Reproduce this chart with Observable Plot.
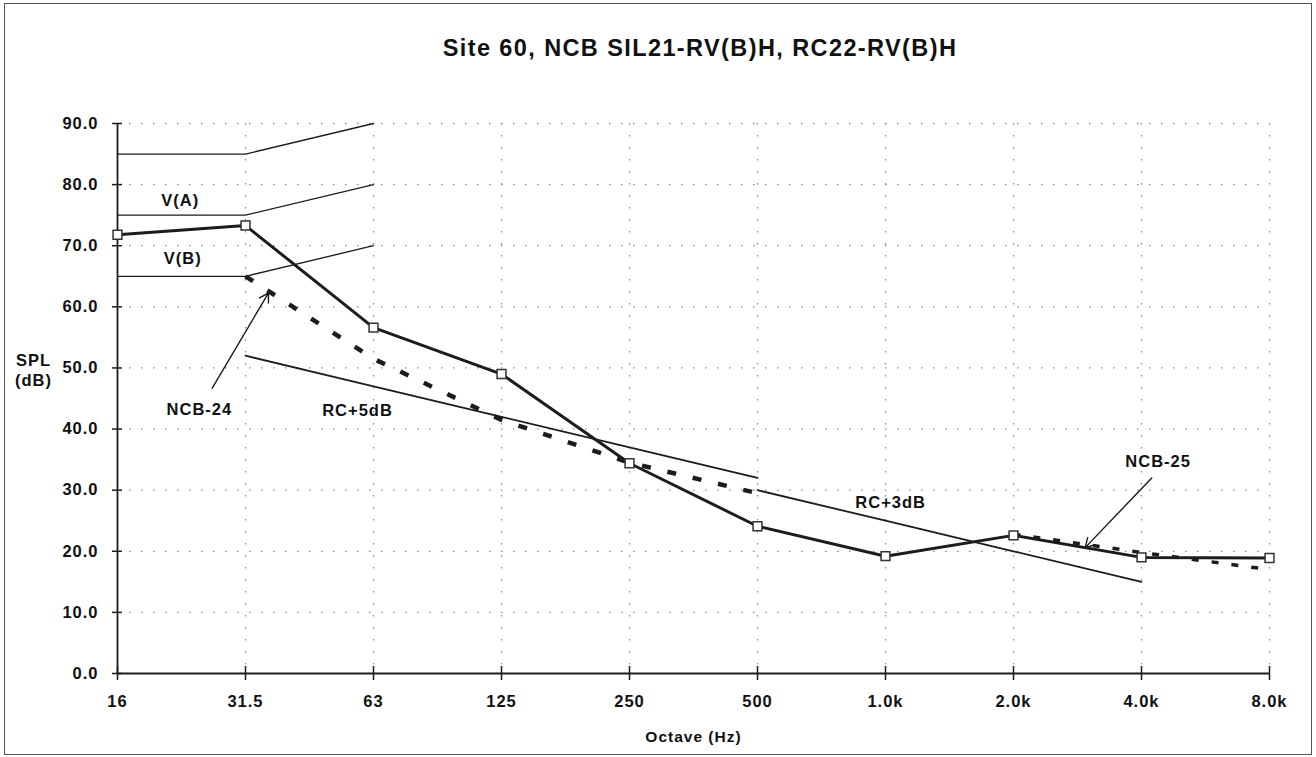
<!DOCTYPE html>
<html>
<head>
<meta charset="utf-8">
<script src="https://cdn.jsdelivr.net/npm/d3@7"></script>
<script src="https://cdn.jsdelivr.net/npm/@observablehq/plot@0.6"></script>
<style>
  body { margin: 0; background: #fff; }
  #wrap { position: relative; width: 1316px; height: 757px; overflow: hidden; font-family: "Liberation Sans", Arial, sans-serif; }
  #border { position: absolute; left: 4px; top: 3px; width: 1308px; height: 752px; border: 1.5px solid #555; box-sizing: border-box; }
  #title { position: absolute; left: 0; top: 35px; width: 1400px; text-align: center; font-weight: bold; font-size: 23.5px; letter-spacing: 1.4px; color: #111; }
  #chart { position: absolute; left: 0; top: 0; }
  #chart svg text { letter-spacing: 1px; }
</style>
</head>
<body>
<div id="wrap">
  <div id="border"></div>
  <div id="chart"></div>
  <div id="title">Site 60, NCB SIL21-RV(B)H, RC22-RV(B)H</div>
</div>
<script>
// Octave band categories (x axis tick labels)
const octaves = ["16", "31.5", "63", "125", "250", "500", "1.0k", "2.0k", "4.0k", "8.0k"];
const yTicks = [0, 10, 20, 30, 40, 50, 60, 70, 80, 90];

// Measured SPL (dB)
const measured = [71.8, 73.3, 56.6, 49.0, 34.4, 24.1, 19.2, 22.6, 19.0, 18.9];

// Vibration criteria lines
const vOct = ["16", "31.5", "63"];
const vTop = [85, 85, 90];
const vA = [75, 75, 80];
const vB = [65, 65, 70];

// RC lines
const rc5Oct = ["31.5", "63", "125", "250", "500"];
const rc5 = [52, 47, 42, 37, 32];
const rc3Oct = ["500", "1.0k", "2.0k", "4.0k"];
const rc3 = [30, 25, 20, 15];

// NCB curves (dashed)
const ncb24Oct = ["31.5", "63", "125", "250", "500"];
const ncb24 = [65, 51.5, 41.5, 34.5, 29.5];
const ncb25Oct = ["2.0k", "4.0k", "8.0k"];
const ncb25 = [22.8, 19.8, 17.0];

// Annotation labels (x in octave-band index units, y in dB)
const labelText = ["V(A)", "V(B)", "NCB-24", "RC+5dB", "RC+3dB", "NCB-25"];
const labelX = [0.49, 0.51, 0.64, 1.875, 6.04, 8.13];
const labelY = [77.4, 67.8, 43.2, 43.0, 28.0, 34.7];

// Arrows (index units, dB)
const arrowX1 = [0.74, 8.08];
const arrowY1 = [46.7, 32.0];
const arrowX2 = [1.18, 7.56];
const arrowY2 = [62.3, 20.6];

const idx = (o) => octaves.indexOf(o);
const series = (oct, vals) => oct.map((o, i) => ({x: idx(o), y: vals[i]}));

const measuredData = series(octaves, measured);
const labels = labelText.map((t, i) => ({t, x: labelX[i], y: labelY[i]}));
const arrows = arrowX1.map((_, i) => ({x1: arrowX1[i], y1: arrowY1[i], x2: arrowX2[i], y2: arrowY2[i]}));

const ink = "#1c1c1c";
const gridStyle = {stroke: "#8a8a8a", strokeOpacity: 1, strokeWidth: 1.3, strokeDasharray: "1.5,10.5"};

const chart = Plot.plot({
  width: 1316,
  height: 757,
  marginTop: 123,
  marginBottom: 84,
  marginLeft: 117,
  marginRight: 47,
  x: {type: "linear", domain: [0, 9]},
  y: {domain: [0, 90]},
  style: {fontFamily: "'Liberation Sans', Arial, sans-serif", fontWeight: "bold", fontSize: "16.5px", color: "#111", background: "transparent"},
  marks: [
    Plot.gridX(d3.range(1, 10), gridStyle),
    Plot.gridY(yTicks.slice(1), gridStyle),
    Plot.axisY({ticks: yTicks, tickFormat: (d) => d.toFixed(1), tickSize: 0, tickPadding: 19, label: null, fontSize: 16.5}),
    Plot.axisX({ticks: d3.range(10), tickFormat: (i) => octaves[i], tickSize: 0, tickPadding: 22, label: null, fontSize: 16.5}),
    Plot.ruleY(yTicks, {x1: 0, x2: 0, insetLeft: -5, insetRight: -5, stroke: ink, strokeWidth: 1.5}),
    Plot.ruleX(d3.range(10), {y1: 0, y2: 0, insetTop: -7, insetBottom: -7, stroke: ink, strokeWidth: 1.5}),
    Plot.ruleX([0], {y1: 0, y2: 90, stroke: ink, strokeWidth: 1.8}),
    Plot.ruleY([0], {x1: 0, x2: 9, stroke: ink, strokeWidth: 2}),
    Plot.line(series(vOct, vTop), {x: "x", y: "y", stroke: ink, strokeWidth: 1.3}),
    Plot.line(series(vOct, vA), {x: "x", y: "y", stroke: ink, strokeWidth: 1.3}),
    Plot.line(series(vOct, vB), {x: "x", y: "y", stroke: ink, strokeWidth: 1.3}),
    Plot.line(series(rc5Oct, rc5), {x: "x", y: "y", stroke: ink, strokeWidth: 1.8}),
    Plot.line(series(rc3Oct, rc3), {x: "x", y: "y", stroke: ink, strokeWidth: 1.8}),
    Plot.line(series(ncb24Oct, ncb24), {x: "x", y: "y", stroke: ink, strokeWidth: 4.5, strokeDasharray: "9,17", strokeLinecap: "butt"}),
    Plot.line(series(ncb25Oct, ncb25), {x: "x", y: "y", stroke: ink, strokeWidth: 3.5, strokeDasharray: "7,13", strokeLinecap: "butt"}),
    Plot.line(measuredData, {x: "x", y: "y", stroke: ink, strokeWidth: 3}),
    Plot.dot(measuredData, {x: "x", y: "y", symbol: "square", r: 5, fill: "white", stroke: "#333", strokeWidth: 1.5}),
    Plot.arrow(arrows, {x1: "x1", y1: "y1", x2: "x2", y2: "y2", stroke: ink, strokeWidth: 1.4, headLength: 11}),
    Plot.text(labels, {x: "x", y: "y", text: "t", fontSize: 16.5, fontWeight: "bold", fill: "#111"}),
    Plot.text(["SPL"], {frameAnchor: "left", textAnchor: "middle", y: 51.2, dx: -84, fontSize: 16.5, fontWeight: "bold", fill: "#111"}),
    Plot.text(["(dB)"], {frameAnchor: "left", textAnchor: "middle", y: 47.9, dx: -84, fontSize: 16.5, fontWeight: "bold", fill: "#111"}),
    Plot.text(["Octave (Hz)"], {frameAnchor: "bottom", dy: 68, fontSize: 15.5, fontWeight: "bold", fill: "#111"})
  ]
});
document.getElementById("chart").append(chart);
</script>
</body>
</html>
